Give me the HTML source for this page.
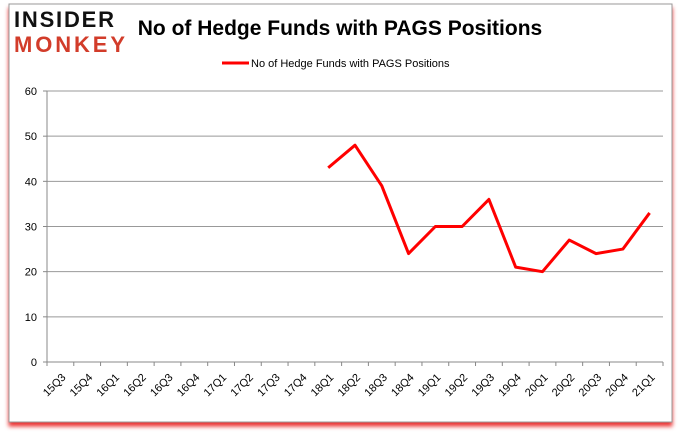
<!DOCTYPE html>
<html><head><meta charset="utf-8"><style>
body{margin:0;background:#fff;width:680px;height:433px;overflow:hidden;font-family:"Liberation Sans",sans-serif}
</style></head><body>
<svg width="680" height="433">
<rect x="9" y="4" width="663" height="418" fill="#fff" stroke="#999" style="filter:drop-shadow(0 4px 2px rgba(230,0,0,0.8))"/>
<text x="14" y="27" font-family="Liberation Sans" font-weight="900" font-size="22" fill="#111" textLength="100">INSIDER</text>
<text x="14" y="52" font-family="Liberation Sans" font-weight="900" font-size="22" fill="#d23c2a" textLength="111">MONKEY</text>
<text x="340" y="35" text-anchor="middle" font-size="21" font-weight="bold" fill="#000">No of Hedge Funds with PAGS Positions</text>
<line x1="222" y1="63" x2="249" y2="63" stroke="red" stroke-width="3"/>
<text x="251" y="67" font-size="11" fill="#000">No of Hedge Funds with PAGS Positions</text>
<g id="g"></g>
</svg>
<script>
const categories=["15Q3","15Q4","16Q1","16Q2","16Q3","16Q4","17Q1","17Q2","17Q3","17Q4","18Q1","18Q2","18Q3","18Q4","19Q1","19Q2","19Q3","19Q4","20Q1","20Q2","20Q3","20Q4","21Q1"];
const values=[null,null,null,null,null,null,null,null,null,null,43,48,39,24,30,30,36,21,20,27,24,25,33];
const yTicks=[0,10,20,30,40,50,60];
const NS="http://www.w3.org/2000/svg",g=document.getElementById('g');
const L=47,R=663,T=91,B=362;
const step=(R-L)/categories.length;
const x=i=>L+step*(i+0.5), y=v=>B-(v/60)*(B-T);
function mk(t,a){const e=document.createElementNS(NS,t);for(const k in a)e.setAttribute(k,a[k]);g.appendChild(e);return e;}
yTicks.forEach(v=>{
 const l=mk('line',{x1:L,x2:R,y1:y(v),y2:y(v),stroke:v===0?'#888':'#999','stroke-width':1});
 
 
 mk('line',{x1:L-4,x2:L,y1:y(v),y2:y(v),stroke:'#888'});
 const t=mk('text',{x:L-10,y:y(v)+4,'text-anchor':'end','font-size':11,fill:'#000'});t.textContent=v;
 
 
});
mk('line',{x1:L,x2:L,y1:T,y2:B,stroke:'#888'});
categories.forEach((c,i)=>{
 mk('line',{x1:L+step*i,x2:L+step*i,y1:B,y2:B+4,stroke:'#888'});
 const t=mk('text',{x:x(i)+6,y:B+16,'text-anchor':'end','font-size':11,fill:'#000',transform:`rotate(-45 ${x(i)+6} ${B+16})`});t.textContent=c;
 
 
});
mk('line',{x1:R,x2:R,y1:B,y2:B+4,stroke:'#888'});
let d='';values.forEach((v,i)=>{if(v==null)return;d+=(d?'L':'M')+x(i)+','+y(v);});
const p=mk('path',{d:d,fill:'none',stroke:'red','stroke-width':3,'stroke-linejoin':'round'});


</script>
</body></html>
